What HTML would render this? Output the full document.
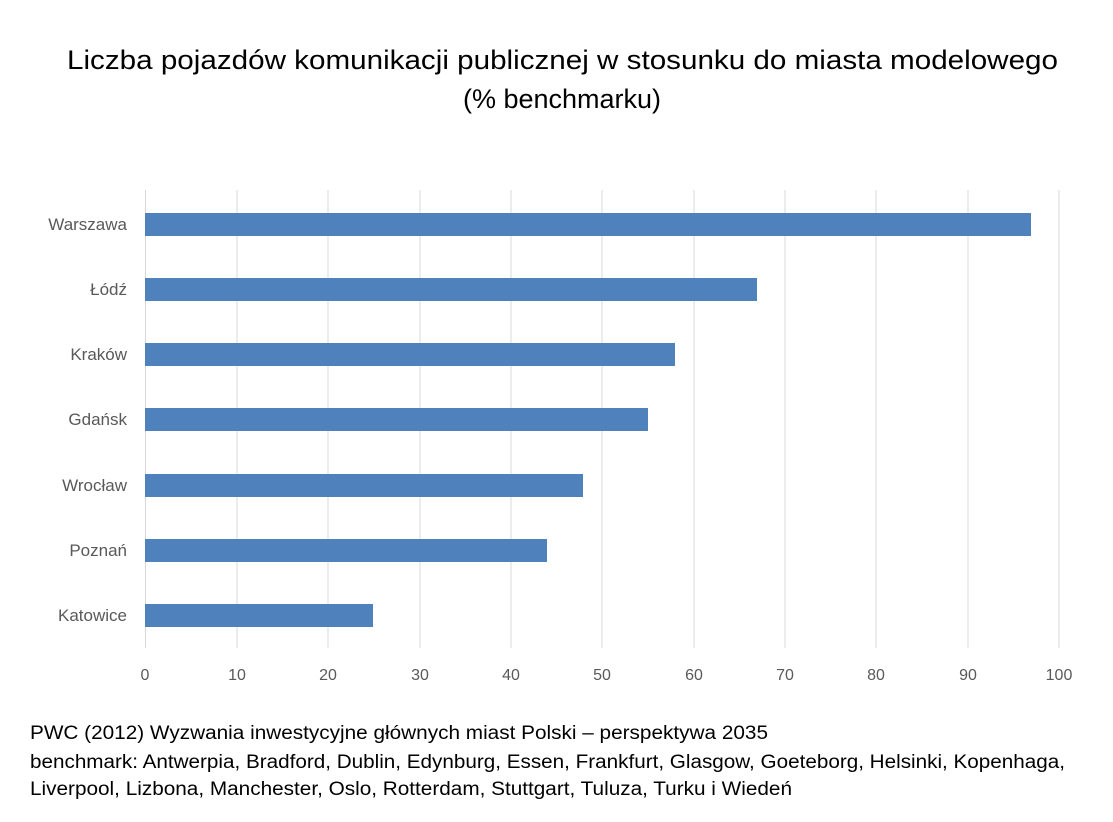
<!DOCTYPE html>
<html><head><meta charset="utf-8"><style>
body{margin:0;background:#fff;width:1113px;height:817px;overflow:hidden;font-family:"Liberation Sans",sans-serif}
</style></head><body>
<svg width="1113" height="817" xmlns="http://www.w3.org/2000/svg" font-family="Liberation Sans, sans-serif">
<text x="67" y="69" font-size="27" fill="#000" textLength="991" lengthAdjust="spacingAndGlyphs">Liczba pojazdów komunikacji publicznej w stosunku do miasta modelowego</text>
<text x="562" y="108" text-anchor="middle" font-size="27" fill="#000">(% benchmarku)</text>
<g stroke="#d9d9d9" stroke-width="1">
<line x1="145.5" y1="190" x2="145.5" y2="648"/>
<line x1="237" y1="190" x2="237" y2="648"/>
<line x1="328" y1="190" x2="328" y2="648"/>
<line x1="420" y1="190" x2="420" y2="648"/>
<line x1="511" y1="190" x2="511" y2="648"/>
<line x1="602" y1="190" x2="602" y2="648"/>
<line x1="694" y1="190" x2="694" y2="648"/>
<line x1="785" y1="190" x2="785" y2="648"/>
<line x1="876" y1="190" x2="876" y2="648"/>
<line x1="968" y1="190" x2="968" y2="648"/>
<line x1="1059" y1="190" x2="1059" y2="648"/>
</g>
<g fill="#4f81bd">
<rect x="145" y="213" width="886" height="23"/>
<rect x="145" y="278" width="612" height="23"/>
<rect x="145" y="343" width="530" height="23"/>
<rect x="145" y="408" width="503" height="23"/>
<rect x="145" y="474" width="438" height="23"/>
<rect x="145" y="539" width="402" height="23"/>
<rect x="145" y="604" width="228" height="23"/>
</g>
<g font-size="17" fill="#595959" text-anchor="end">
<text x="127" y="230">Warszawa</text>
<text x="127" y="295">Łódź</text>
<text x="127" y="360">Kraków</text>
<text x="127" y="425">Gdańsk</text>
<text x="127" y="491">Wrocław</text>
<text x="127" y="556">Poznań</text>
<text x="127" y="621">Katowice</text>
</g>
<g font-size="16" fill="#595959" text-anchor="middle">
<text x="145" y="680">0</text><text x="237" y="680">10</text><text x="328" y="680">20</text>
<text x="420" y="680">30</text><text x="511" y="680">40</text><text x="602" y="680">50</text>
<text x="694" y="680">60</text><text x="785" y="680">70</text><text x="876" y="680">80</text>
<text x="968" y="680">90</text><text x="1059" y="680">100</text>
</g>
<g font-size="19" fill="#000">
<text x="30" y="739" textLength="738" lengthAdjust="spacingAndGlyphs">PWC  (2012) Wyzwania inwestycyjne głównych miast Polski – perspektywa 2035</text>
<text x="30" y="768" textLength="1035" lengthAdjust="spacingAndGlyphs">benchmark: Antwerpia, Bradford, Dublin, Edynburg, Essen, Frankfurt, Glasgow, Goeteborg, Helsinki, Kopenhaga,</text>
<text x="30" y="795" textLength="762" lengthAdjust="spacingAndGlyphs">Liverpool, Lizbona, Manchester, Oslo, Rotterdam, Stuttgart, Tuluza, Turku i Wiedeń</text>
</g>
</svg>
</body></html>
